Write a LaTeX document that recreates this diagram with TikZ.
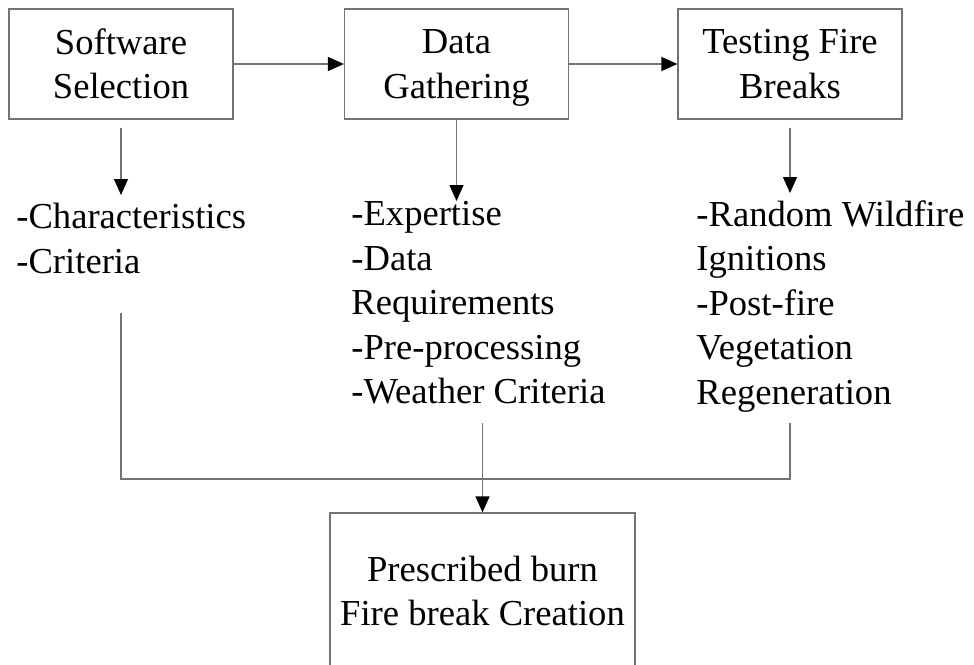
\documentclass[tikz,border=0pt]{standalone}
\usepackage{fontspec}
\setmainfont{Liberation Serif}
\usetikzlibrary{arrows.meta}
\tikzstyle{every node}=[font=\fontsize{18.3pt}{22.25pt}\selectfont]
\tikzstyle{process} = [rectangle, minimum width=112pt, minimum height=55pt, inner sep=0pt, align=center, draw=black!55, line width=0.6pt]
\tikzstyle{result} = [rectangle, minimum width=152.5pt, minimum height=78pt, inner sep=0pt, align=center, draw=black!55, line width=0.6pt]
\tikzstyle{items} = [align=left, inner sep=0pt, anchor=north west]
\tikzstyle{link} = [draw=black!55, line width=0.6pt]
\tikzstyle{arrow} = [link, -{Triangle[length=8pt,width=7pt,color=black]}]

\begin{document}
\begin{tikzpicture}[x=0.5pt, y=-0.5pt]
		\useasboundingbox (0,0) rectangle (974,664);
		\clip (0,0) rectangle (974,664);
		
		% the three stages
		\node (soft1) [process] at (121,64) {Software\\Selection};
		\node (data1) [process] at (456.5,64) {Data\\\smash{Gathering}};
		\node (test1) [process] at (790,64) {Testing Fire\\Breaks};
		
		% what each stage covers
		\node (list1) [items] at (16,203) {-Characteristics\\-Criteria};
		\node (list2) [items] at (351,201) {-Expertise\\-Data\\Requirements\\-Pre-processing\\-Weather Criteria};
		\node (list3) [items] at (696,200) {-Random Wildfire\\Ignitions\\-Post-fire\\Vegetation\\Regeneration};
		
		\node (burn1) [result] at (482.5,591) {Prescribed burn\\Fire break Creation};
		
		% connections
		\draw [arrow](soft1) -- (data1);
		\draw [arrow](data1) -- (test1);
		\draw [arrow, shorten <=4pt, shorten >=4pt](soft1.south) -- (soft1.south |- list1.north);
		\draw [arrow](data1.south) -- (data1.south |- list2.north);
		\draw [arrow, shorten <=4pt, shorten >=3.5pt](test1.south) -- (test1.south |- list3.north);
		
		% lines merging into the last box
		\coordinate (tail1) at (soft1.south |- 0,313);
		\coordinate (tail2) at (burn1.north |- 0,423);
		\coordinate (tail3) at (test1.south |- 0,423);
		\coordinate (join1) at (burn1.north |- 0,479);
		\draw [link](tail1) |- (join1) -| (tail3);
		\draw [arrow](tail2) -- (burn1);
		
	\end{tikzpicture}
\end{document}
